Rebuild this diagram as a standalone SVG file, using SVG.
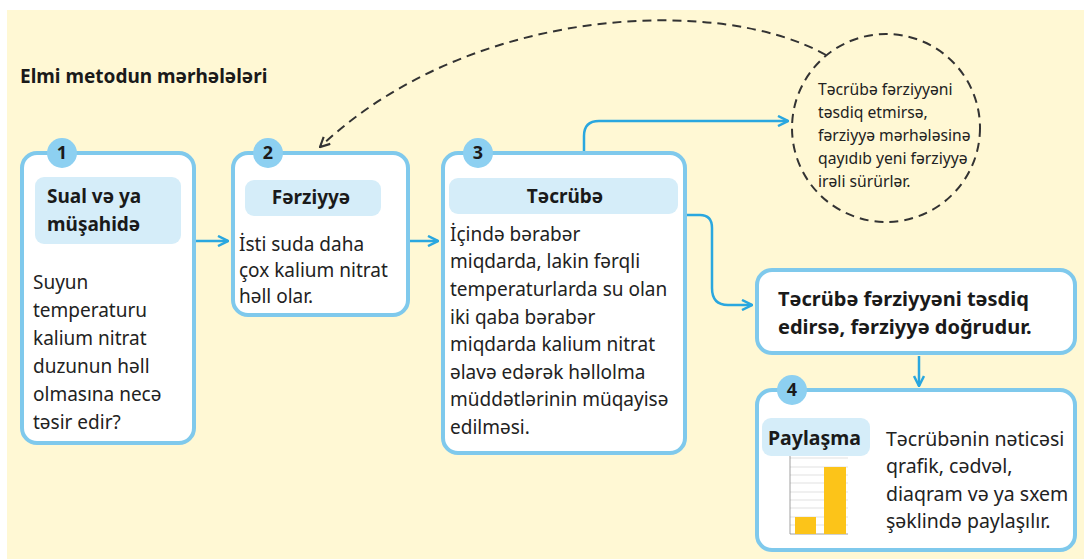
<svg xmlns="http://www.w3.org/2000/svg" width="1084" height="559" viewBox="0 0 1084 559">
<defs>
<style>
.box{fill:#fff;stroke:#7fc9ec;stroke-width:4}
.hdr{fill:#d5edf9}
.num{fill:#8dd0f1}
.numt{font-family:"Noto Sans",sans-serif;font-weight:bold;font-size:18px;fill:#1a1a1a;text-anchor:middle}
.h{font-family:"Noto Sans",sans-serif;font-weight:bold;font-size:19px;fill:#1a1a1a}
.t{font-family:"Noto Sans",sans-serif;font-size:19px;fill:#222}
.s{font-family:"Noto Sans",sans-serif;font-size:15.7px;fill:#222}
.con{fill:none;stroke:#2aa7df;stroke-width:2.5}
.dash{fill:none;stroke:#333;stroke-width:2;stroke-dasharray:9 6}
</style>
<marker id="ab" viewBox="0 0 10 10" refX="9" refY="5" markerWidth="5" markerHeight="5" orient="auto" markerUnits="strokeWidth">
<path d="M1 1 L9 5 L1 9" fill="none" stroke="#2aa7df" stroke-width="2"/>
</marker>
<marker id="ad" viewBox="0 0 10 10" refX="9" refY="5" markerWidth="6" markerHeight="6" orient="auto" markerUnits="strokeWidth">
<path d="M1 1 L9 5 L1 9" fill="none" stroke="#333" stroke-width="1.8"/>
</marker>
</defs>
<rect x="7" y="10" width="1077" height="549" fill="#fff8d4"/>
<text x="20" y="83" class="h">Elmi metodun mərhələləri</text>

<g id="connectors">
<path class="con" d="M196 241 H228" marker-end="url(#ab)"/>
<path class="con" d="M410 241 H438" marker-end="url(#ab)"/>
<path class="con" d="M584 152 V136 Q584 121 599 121 H788" marker-end="url(#ab)"/>
<path class="con" d="M687 215 H700 Q712 215 712 228 V288 Q712 305 728 305 H752" marker-end="url(#ab)"/>
<path class="con" d="M919 356 V386" marker-end="url(#ab)"/>
<path class="dash" d="M826 55 C720 -5 470 5 320 147" marker-end="url(#ad)"/>
</g>

<g id="node-1">
<rect class="box" x="22" y="153" width="172" height="290" rx="15"/>
<rect class="hdr" x="35" y="177" width="146" height="67" rx="9"/>
<circle class="num" cx="62" cy="153" r="15"/>
<text class="numt" x="62" y="159">1</text>
<text class="h" x="47" y="203">Sual və ya</text>
<text class="h" x="47" y="231">müşahidə</text>
<text class="t" x="33" y="289">Suyun</text>
<text class="t" x="33" y="317">temperaturu</text>
<text class="t" x="33" y="345">kalium nitrat</text>
<text class="t" x="33" y="373">duzunun həll</text>
<text class="t" x="33" y="401">olmasına necə</text>
<text class="t" x="33" y="429">təsir edir?</text>
</g>

<g id="node-2">
<rect class="box" x="233" y="153" width="175" height="162" rx="15"/>
<rect class="hdr" x="245" y="180" width="136" height="36" rx="9"/>
<circle class="num" cx="268" cy="153" r="15"/>
<text class="numt" x="268" y="159">2</text>
<text class="h" x="311" y="204" text-anchor="middle">Fərziyyə</text>
<text class="t" x="239" y="251">İsti suda daha</text>
<text class="t" x="239" y="277">çox kalium nitrat</text>
<text class="t" x="239" y="303">həll olar.</text>
</g>

<g id="node-3">
<rect class="box" x="443" y="153" width="242" height="300" rx="15"/>
<rect class="hdr" x="449" y="178" width="229" height="36" rx="9"/>
<circle class="num" cx="478" cy="153" r="15"/>
<text class="numt" x="478" y="159">3</text>
<text class="h" x="565" y="203" text-anchor="middle">Təcrübə</text>
<text class="t" x="450" y="241">İçində bərabər</text>
<text class="t" x="450" y="268">miqdarda, lakin fərqli</text>
<text class="t" x="450" y="296">temperaturlarda su olan</text>
<text class="t" x="450" y="324">iki qaba bərabər</text>
<text class="t" x="450" y="351">miqdarda kalium nitrat</text>
<text class="t" x="450" y="379">əlavə edərək həllolma</text>
<text class="t" x="450" y="406">müddətlərinin müqayisə</text>
<text class="t" x="450" y="434">edilməsi.</text>
</g>

<g id="node-note">
<circle cx="886" cy="128" r="94" class="dash"/>
<text class="s" x="818" y="95">Təcrübə fərziyyəni</text>
<text class="s" x="818" y="118">təsdiq etmirsə,</text>
<text class="s" x="818" y="141">fərziyyə mərhələsinə</text>
<text class="s" x="818" y="164">qayıdıb yeni fərziyyə</text>
<text class="s" x="818" y="187">irəli sürürlər.</text>
</g>

<g id="node-result">
<rect class="box" x="757" y="270" width="318" height="83" rx="15"/>
<text class="h" x="778" y="306" style="font-size:20px">Təcrübə fərziyyəni təsdiq</text>
<text class="h" x="778" y="334" style="font-size:20px">edirsə, fərziyyə doğrudur.</text>
</g>

<g id="node-4">
<rect class="box" x="757" y="390" width="318" height="160" rx="15"/>
<rect class="hdr" x="762" y="418" width="108" height="38" rx="9"/>
<circle class="num" cx="792" cy="390" r="15"/>
<text class="numt" x="792" y="396">4</text>
<text class="h" x="768" y="445" style="font-size:19.5px">Paylaşma</text>
<text class="t" x="886" y="446" style="font-size:19.5px">Təcrübənin nəticəsi</text>
<text class="t" x="886" y="473" style="font-size:19.5px">qrafik, cədvəl,</text>
<text class="t" x="886" y="501" style="font-size:19.5px">diaqram və ya sxem</text>
<text class="t" x="886" y="528" style="font-size:19.5px">şəklində paylaşılır.</text>
<g id="chart">
<g stroke="#ccc" stroke-width="0.6">
<line x1="790" y1="458" x2="848" y2="458"/>
<line x1="790" y1="467" x2="848" y2="467"/>
<line x1="790" y1="475" x2="848" y2="475"/>
<line x1="790" y1="483" x2="848" y2="483"/>
<line x1="790" y1="492" x2="848" y2="492"/>
<line x1="790" y1="500" x2="848" y2="500"/>
<line x1="790" y1="508" x2="848" y2="508"/>
<line x1="790" y1="517" x2="848" y2="517"/>
<line x1="790" y1="525" x2="848" y2="525"/>
</g>
<line x1="790" y1="456" x2="790" y2="534" stroke="#888" stroke-width="0.8"/>
<line x1="790" y1="534" x2="848" y2="534" stroke="#888" stroke-width="0.8"/>
<rect x="795" y="517" width="21" height="17" fill="#fcc419"/>
<rect x="824" y="467" width="22" height="67" fill="#fcc419"/>
</g>
</g>
</svg>
